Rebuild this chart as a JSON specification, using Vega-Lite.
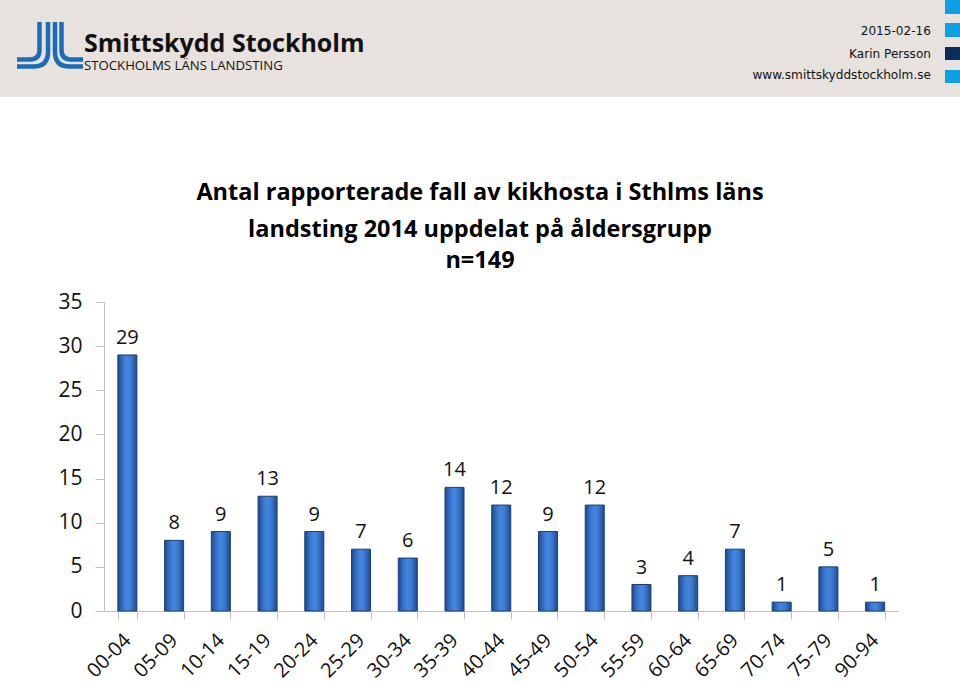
{
  "$schema": "https://vega.github.io/schema/vega-lite/v6.json",
  "padding": {"left": -8, "top": 0, "right": 0, "bottom": 0},
  "autosize": {"type": "pad"},
  "background": "white",
  "spacing": 84,
  "config": {"view": {"stroke": null}},
  "vconcat": [
    {
      "width": 960,
      "height": 97,
      "view": {"fill": "#e8e2de", "stroke": null},
      "layer": [
        {
          "data": {"values": [{"name": "logo"}]},
          "mark": {"type": "point", "filled": false, "opacity": 1, "size": 4, "stroke": "#1b6cb5", "strokeWidth": 4.5, "strokeCap": "butt",
            "shape": "M -440.5 -26.5 V 1.5 Q -440.5 11 -450 11 H -463 M -432 -26.5 V 3.5 Q -432 18 -446.5 18 H -463 M -425 -26.5 V 3.5 Q -425 18 -410.5 18 H -397 M -418.5 -26.5 V 1.5 Q -418.5 11 -409 11 H -397"},
          "encoding": {}
        },
        {
          "data": {"values": [{"name": "squares"}]},
          "mark": {"type": "point", "filled": true, "opacity": 1, "size": 4, "fill": "#0d9fe3", "strokeWidth": 0,
            "shape": "M 465 -48.5 H 480 V -34.5 H 465 Z M 465 -25.5 H 480 V -11.5 H 465 Z M 465 21.5 H 480 V 34.5 H 465 Z"},
          "encoding": {}
        },
        {
          "data": {"values": [{"name": "square-dark"}]},
          "mark": {"type": "point", "filled": true, "opacity": 1, "size": 4, "fill": "#0b2d5c", "strokeWidth": 0,
            "shape": "M 465 -1.5 H 480 V 11.5 H 465 Z"},
          "encoding": {}
        },
        {
          "data": {"values": [{"label": "Smittskydd Stockholm"}]},
          "mark": {"type": "text", "align": "left", "baseline": "alphabetic", "dx": -396, "dy": 3.5, "font": "Open Sans", "fontSize": 25, "fontWeight": "bold", "color": "#111111"},
          "encoding": {"text": {"field": "label"}}
        },
        {
          "data": {"values": [{"label": "STOCKHOLMS LÄNS LANDSTING"}]},
          "mark": {"type": "text", "align": "left", "baseline": "alphabetic", "dx": -396, "dy": 21, "font": "Open Sans", "fontSize": 13.2, "color": "#111111"},
          "encoding": {"text": {"field": "label"}}
        },
        {
          "data": {"values": [{"label": "2015-02-16"}]},
          "mark": {"type": "text", "align": "right", "baseline": "alphabetic", "dx": 451, "dy": -13.5, "font": "DejaVu Sans", "fontSize": 12.1, "color": "#111111"},
          "encoding": {"text": {"field": "label"}}
        },
        {
          "data": {"values": [{"label": "Karin Persson"}]},
          "mark": {"type": "text", "align": "right", "baseline": "alphabetic", "dx": 451, "dy": 9.5, "font": "DejaVu Sans", "fontSize": 12.1, "color": "#111111"},
          "encoding": {"text": {"field": "label"}}
        },
        {
          "data": {"values": [{"label": "www.smittskyddstockholm.se"}]},
          "mark": {"type": "text", "align": "right", "baseline": "alphabetic", "dx": 451, "dy": 30, "font": "DejaVu Sans", "fontSize": 12.1, "color": "#111111"},
          "encoding": {"text": {"field": "label"}}
        }
      ]
    },
    {
      "width": 960,
      "height": 309,
      "data": {
        "values": [
          {"age": "00-04", "n": 29},
          {"age": "05-09", "n": 8},
          {"age": "10-14", "n": 9},
          {"age": "15-19", "n": 13},
          {"age": "20-24", "n": 9},
          {"age": "25-29", "n": 7},
          {"age": "30-34", "n": 6},
          {"age": "35-39", "n": 14},
          {"age": "40-44", "n": 12},
          {"age": "45-49", "n": 9},
          {"age": "50-54", "n": 12},
          {"age": "55-59", "n": 3},
          {"age": "60-64", "n": 4},
          {"age": "65-69", "n": 7},
          {"age": "70-74", "n": 1},
          {"age": "75-79", "n": 5},
          {"age": "90-94", "n": 1}
        ]
      },
      "title": {
        "text": ["Antal rapporterade fall av kikhosta i Sthlms läns", "landsting  2014 uppdelat på åldersgrupp"],
        "subtitle": "n=149",
        "font": "Open Sans",
        "fontSize": 23.5,
        "fontWeight": "bold",
        "color": "#000000",
        "lineHeight": 36.6,
        "subtitleFont": "Open Sans",
        "subtitleFontSize": 23.5,
        "subtitleFontWeight": "bold",
        "subtitleColor": "#000000",
        "subtitlePadding": 7,
        "anchor": "middle",
        "frame": "group",
        "offset": 19
      },
      "encoding": {
        "x": {
          "field": "age",
          "type": "ordinal",
          "sort": null,
          "scale": {"range": [104, 898.5], "paddingInner": 0.593, "paddingOuter": 0.2965},
          "axis": {
            "title": null,
            "labelAngle": -45,
            "labelAlign": "right",
            "labelBaseline": "middle",
            "tickBand": "extent",
            "tickSize": 8,
            "labelPadding": 18,
            "domainColor": "#bfbfbf",
            "tickColor": "#bfbfbf",
            "labelFont": "Open Sans",
            "labelFontSize": 20,
            "labelColor": "#111111"
          }
        },
        "y": {
          "field": "n",
          "type": "quantitative",
          "scale": {"domain": [0, 35], "nice": false},
          "axis": {
            "title": null,
            "values": [0, 5, 10, 15, 20, 25, 30, 35],
            "offset": -104,
            "grid": false,
            "domainColor": "#bfbfbf",
            "tickColor": "#bfbfbf",
            "tickSize": 9,
            "labelPadding": 13,
            "labelAlign": "right",
            "labelFont": "Open Sans",
            "labelFontSize": 21,
            "labelColor": "#111111"
          }
        }
      },
      "layer": [
        {
          "mark": {
            "type": "bar",
            "fill": {
              "gradient": "linear", "x1": 0, "x2": 1, "y1": 0, "y2": 0,
              "stops": [
                {"offset": 0, "color": "#1d4a8c"},
                {"offset": 0.3, "color": "#3a78d0"},
                {"offset": 0.5, "color": "#4486de"},
                {"offset": 0.7, "color": "#3a78d0"},
                {"offset": 1, "color": "#1d4a8c"}
              ]
            },
            "stroke": "#1f3e70",
            "strokeWidth": 1
          }
        },
        {
          "mark": {"type": "text", "baseline": "alphabetic", "dy": -11, "font": "Open Sans", "fontSize": 20, "color": "#111111"},
          "encoding": {"text": {"field": "n"}}
        }
      ]
    }
  ]
}
